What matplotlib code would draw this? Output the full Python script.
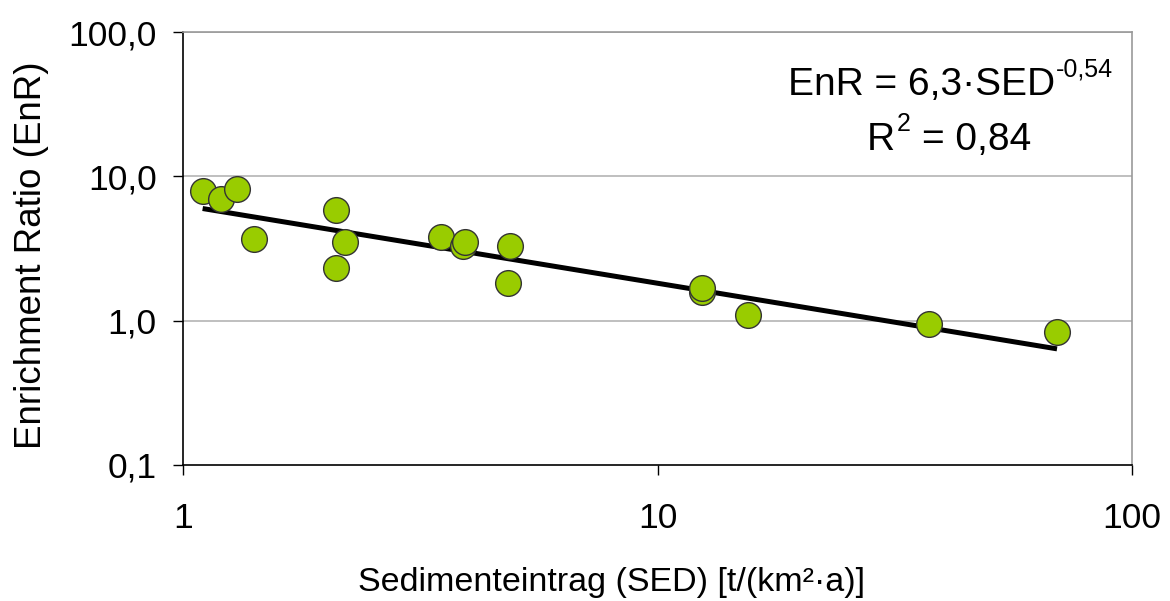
import numpy as np
import matplotlib as mpl
mpl.use('Agg')
import matplotlib.pyplot as plt
from matplotlib.ticker import FixedLocator, NullLocator

plt.rcParams['font.family'] = ['Liberation Sans', 'DejaVu Sans']

sed = [1.10, 1.20, 1.30, 1.41, 2.10, 2.10, 2.20, 3.49, 3.90, 3.92,
       4.90, 4.83, 12.4, 12.4, 15.5, 37.3, 69.5]
enr = [7.9, 7.0, 8.2, 3.7, 5.8, 2.3, 3.5, 3.8, 3.3, 3.5,
       3.3, 1.83, 1.59, 1.69, 1.10, 0.95, 0.83]

# Trendlinie (Potenzfunktion)
coef_a = 6.3
coef_b = -0.54
y_ticks = [0.1, 1.0, 10.0, 100.0]
y_labels = ['0,1', '1,0', '10,0', '100,0']
x_ticks = [1, 10, 100]
x_labels = ['1', '10', '100']

W, H = 1170, 601
fig = plt.figure(figsize=(W / 100, H / 100), dpi=100)
ax = fig.add_axes([183 / W, 1 - 465 / H, (1132 - 183) / W, (465 - 32) / H])

ax.set_xscale('log')
ax.set_yscale('log')
ax.set_xlim(1, 100)
ax.set_ylim(0.1, 100)

# Gitter
for yt in y_ticks[1:]:
    ax.axhline(yt, color='#b4b4b4', lw=1.2, zorder=0)

# Trendlinie
xs = np.array([min(sed), max(sed)])
ax.plot(xs, coef_a * xs ** coef_b, color='black', lw=3.6, zorder=2,
        solid_capstyle='butt')

# Punkte
ax.plot(sed, enr, linestyle='', marker='o', markersize=18.5,
        markerfacecolor='#99cc00', markeredgecolor='#333333',
        markeredgewidth=1.0, zorder=3)

ax.spines['top'].set_color('#999999')
ax.spines['right'].set_color('#999999')
for s in ['top', 'right', 'left', 'bottom']:
    ax.spines[s].set_linewidth(1.2)

ax.yaxis.set_major_locator(FixedLocator(y_ticks))
ax.yaxis.set_minor_locator(NullLocator())
ax.set_yticklabels(y_labels)
ax.xaxis.set_major_locator(FixedLocator(x_ticks))
ax.xaxis.set_minor_locator(NullLocator())
ax.set_xticklabels(x_labels)
ax.tick_params(axis='y', direction='out', length=7, width=1, pad=12,
               labelsize=25.5)
ax.tick_params(axis='x', direction='out', length=7, width=1, pad=20,
               labelsize=25.5)

# Achsenbeschriftungen
fig.text(32 / W, 1 - 255 / H, 'Enrichment Ratio (EnR)', rotation=90,
         ha='center', va='center', fontsize=26.5)
fig.text(611 / W, 1 - 591 / H, 'Sedimenteintrag (SED) [t/(km²·a)]',
         ha='center', va='baseline', fontsize=24.5)

# Gleichung der Trendlinie
fig.text(1055 / W, 1 - 95 / H, 'EnR = 6,3·SED', ha='right', va='baseline',
         fontsize=28)
fig.text(1056 / W, 1 - 76 / H, '-0,54', ha='left', va='baseline',
         fontsize=18)
fig.text(867 / W, 1 - 150 / H, 'R', ha='left', va='baseline', fontsize=28)
fig.text(897 / W, 1 - 131 / H, '2', ha='left', va='baseline', fontsize=18)
fig.text(1031 / W, 1 - 150 / H, '= 0,84', ha='right', va='baseline',
         fontsize=28)

fig.savefig('out.png')
